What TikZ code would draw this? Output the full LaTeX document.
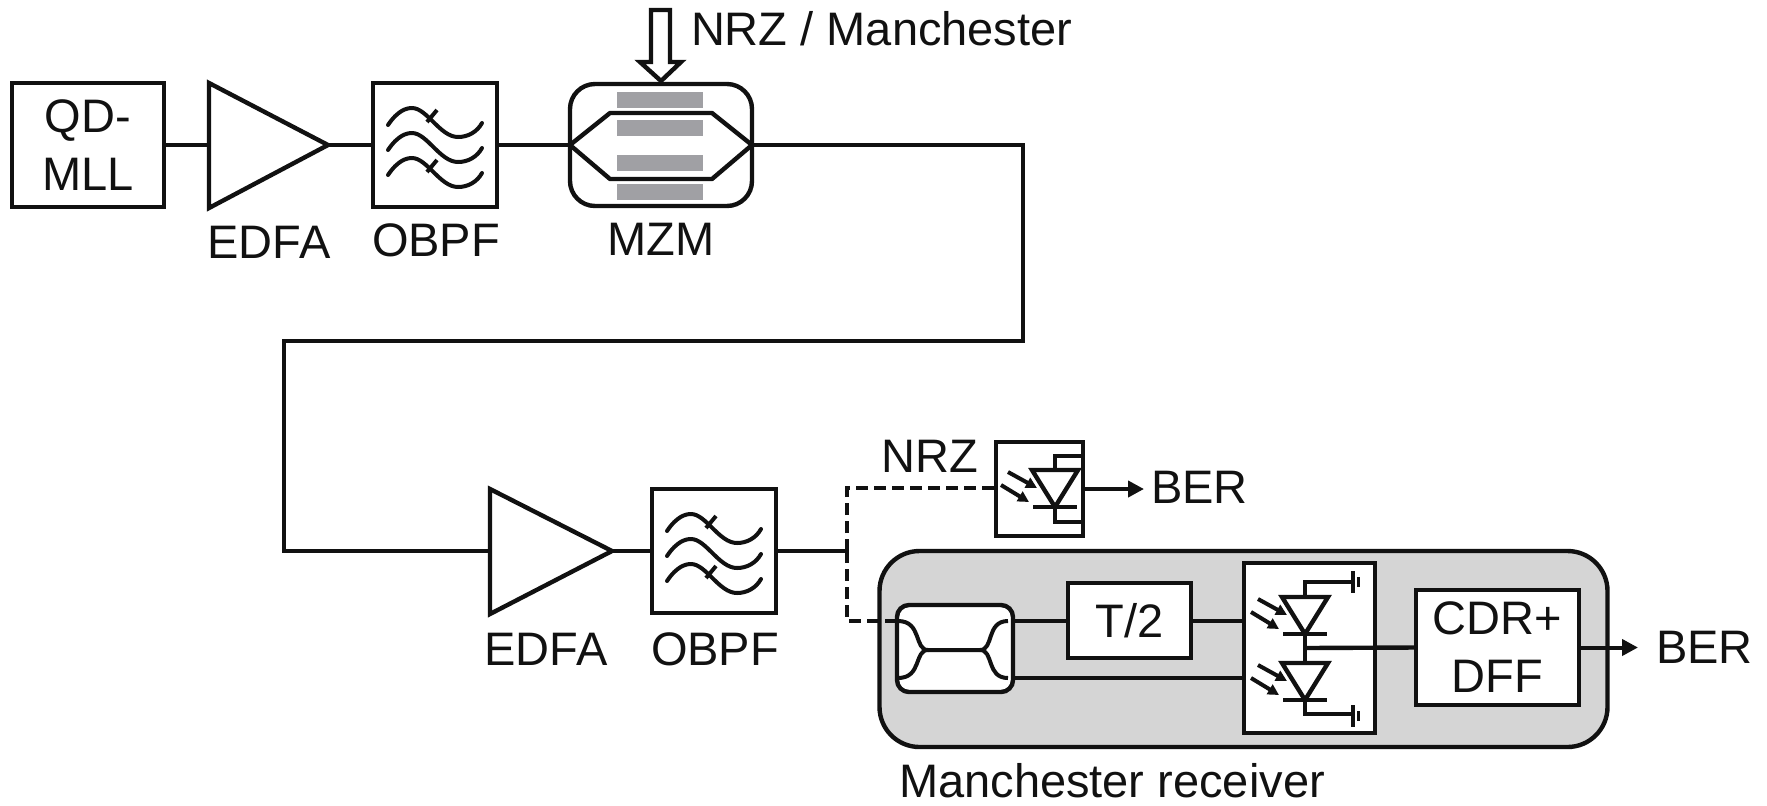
\documentclass[tikz,border=0pt]{standalone}
\usepackage{fontspec}
\setmainfont{Liberation Sans}
\usetikzlibrary{arrows.meta}
\definecolor{ink}{HTML}{111111}
\definecolor{panel}{HTML}{D5D5D5}
\definecolor{electrode}{HTML}{A0A0A4}
\tikzset{
  x=0.5pt,y=-0.5pt,
  ink line/.style={draw=ink,line width=2.2pt},
  thin line/.style={draw=ink,line width=2pt},
  lab/.style={inner sep=0pt,outer sep=0pt,text=ink,font=\fontsize{23.5}{29}\selectfont},
  blockbox/.style={ink line,fill=white,inner sep=0pt,outer sep=0pt,align=center,text=ink,font=\fontsize{23.5}{29}\selectfont},
  tip/.style={-{Triangle[length=8pt,width=8pt]}},
  smalltip/.style={-{Triangle[length=5.5pt,width=5.5pt]}},
  pics/filterwaves/.style={code={
    \foreach \d in {-25,0,25}{
      \draw[thin line,line cap=round] (-47,5+\d) .. controls (-37,-10+\d) and (-28,-12+\d) .. (-23,-12+\d) .. controls (-8,-12+\d) and (5,17+\d) .. (23,17+\d) .. controls (33,17+\d) and (42,12+\d) .. (47,3+\d);
    }
    \draw[thin line] (-8,-23) -- (2,-35);
    \draw[thin line] (-8,27) -- (2,15);
  }},
  pics/diode/.style={code={
    \draw[ink line,line join=miter] (-23,-37) -- (23,-37) -- (0,0) -- cycle;
    \draw[ink line] (-22,0) -- (22,0);
    \draw[thin line,smalltip] (-47,-35) -- (-18,-19);
    \draw[thin line,smalltip] (-54,-22) -- (-26,-5);
  }},
  pics/earth/.style={code={
    \draw[thin line] (0,-11) -- (0,11);
    \draw[draw=ink,line width=1.8pt] (5.5,-5) -- (5.5,5);
  }},
}
\begin{document}
\begin{tikzpicture}
\useasboundingbox (0,0) rectangle (1767,805);

% Manchester receiver panel
\node[ink line,fill=panel,rounded corners=20pt,minimum width=364pt,minimum height=98pt,inner sep=0pt,outer sep=0pt] (rx) at (1243.5,649) {};

% top row
\node[blockbox,minimum width=76pt,minimum height=62pt] (qd) at (88,145) {QD-\\MLL};
\coordinate (a1in) at (209,145);
\coordinate (a1out) at (328,145);
\draw[ink line,line join=miter] (209,83) -- (a1out) -- (209,208) -- cycle;
\node[lab,anchor=base] (a1lab) at (269,258) {EDFA};

\node[blockbox,minimum width=62pt,minimum height=62pt] (f1) at (435,145) {};
\pic at (435,145) {filterwaves};
\node[lab,anchor=base] (f1lab) at (436,256) {OBPF};

\node[ink line,fill=white,rounded corners=12.5pt,minimum width=91pt,minimum height=61pt,inner sep=0pt,outer sep=0pt] (mzm) at (661,145) {};
\foreach \yy in {92,120,155,184}{
  \fill[electrode] (617,\yy) rectangle (703,\yy+16);
}
\draw[ink line,line join=round] (570,145) -- (610,113) -- (712,113) -- (752,145) -- (712,179) -- (610,179) -- cycle;
\node[lab,anchor=base] (mzmlab) at (661,255) {MZM};

\draw[ink line,line join=miter,fill=white] (651,10) -- (670,10) -- (670,62) -- (681,62) -- (661,81) -- (640,62) -- (651,62) -- cycle;
\node[lab,anchor=base west] (mod) at (691,45) {NRZ / Manchester};

% second row
\coordinate (a2in) at (490,551);
\coordinate (a2out) at (612,551);
\draw[ink line,line join=miter] (490,489) -- (a2out) -- (490,614) -- cycle;
\node[lab,anchor=base] (a2lab) at (546,665) {EDFA};

\node[blockbox,minimum width=62pt,minimum height=62pt] (f2) at (714,551) {};
\pic at (714,551) {filterwaves};
\node[lab,anchor=base] (f2lab) at (715,665) {OBPF};

% NRZ branch
\node[lab,anchor=base] (nrzlab) at (930,472) {NRZ};
\node[blockbox,minimum width=43.5pt,minimum height=47pt] (pd) at (1039.5,489) {};
\pic at (1055,507) {diode};
\draw[ink line] (1055,470) -- (1055,456) -- (1083,456);
\draw[ink line] (1055,507) -- (1055,522) -- (1083,522);
\node[lab,anchor=base west] (ber1) at (1151,503) {BER};
\coordinate (ber1in) at (1144,489);

% receiver content
\node[ink line,fill=white,rounded corners=6pt,minimum width=58pt,minimum height=43.5pt,inner sep=0pt,outer sep=0pt] (cp) at (955,648.5) {};
\draw[thin line] (898,621) .. controls (922,621) and (914,650) .. (928,650) -- (980,650) .. controls (994,650) and (986,621) .. (1008,621);
\draw[thin line] (898,678) .. controls (922,678) and (914,650) .. (928,650);
\draw[thin line] (980,650) .. controls (994,650) and (986,678) .. (1008,678);
\coordinate (cpl) at (897,621);
\coordinate (cpu) at (1013,621);
\coordinate (cpd) at (1013,678);

\node[blockbox,minimum width=61.5pt,minimum height=37.5pt] (t2) at (1129.5,620.5) {T/2};
\node[blockbox,minimum width=65.5pt,minimum height=85pt] (pd2) at (1309.5,648) {};
\coordinate (pdu) at (1245,621);
\coordinate (pdl) at (1245,678);
\coordinate (pdout) at (1305,648);
\pic at (1305,634) {diode};
\pic at (1305,700) {diode};
\draw[ink line] (1305,634) -- (1305,663);
\draw[ink line] (1305,597) -- (1305,582) -- (1353,582);
\draw[ink line] (1305,700) -- (1305,714) -- (1353,714);
\pic at (1353,582) {earth};
\pic at (1353,716) {earth};

\node[blockbox,minimum width=81.5pt,minimum height=57.5pt] (cdr) at (1497.5,647.5) {CDR+\\DFF};
\coordinate (ber2in) at (1638,647.5);
\node[lab,anchor=base west] (ber2) at (1656,663) {BER};
\node[lab,anchor=base] (rxlab) at (1112,797) {Manchester receiver};

% connectors
\draw[ink line] (qd.east) -- (a1in);
\draw[ink line] (a1out) -- (f1.west);
\draw[ink line] (f1.east) -- (mzm.west);
\coordinate (c1) at (1023,145);
\coordinate (c2) at (1023,341);
\coordinate (c3) at (284,341);
\coordinate (c4) at (284,551);
\draw[ink line,line join=miter] (mzm.east) -- (c1) -- (c2) -- (c3) -- (c4) -- (a2in);
\draw[ink line] (a2out) -- (f2.west);
\coordinate (sp) at (847,551);
\coordinate (sp1) at (847,488);
\coordinate (sp2) at (847,621);
\draw[ink line] (f2.east) -- (sp);
\draw[ink line,dash pattern=on 6pt off 3pt,line join=miter] (sp) -- (sp1) -- (pd.west |- sp1);
\draw[ink line,dash pattern=on 6pt off 3pt,line join=miter] (sp) -- (sp2) -- (cpl);
\draw[draw=ink,line width=2pt,tip] (pd.east) -- (ber1in);
\draw[ink line] (cpu) -- (t2.west |- cpu);
\draw[ink line] (t2.east |- pdu) -- (pdu);
\draw[ink line] (cpd) -- (pdl);
\draw[ink line] (pdout) -- (cdr.west);
\draw[draw=ink,line width=2pt,tip] (cdr.east) -- (ber2in);
\end{tikzpicture}
\end{document}
